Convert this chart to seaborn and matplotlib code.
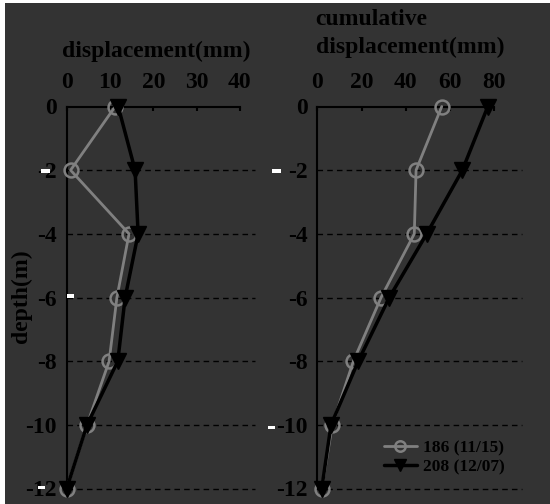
import matplotlib
matplotlib.use("Agg")
import matplotlib.pyplot as plt
from matplotlib.patches import Rectangle
import seaborn as sns

# Inclinometer readings: depth (m) against displacement (mm)
depth = [0, -2, -4, -6, -8, -10, -12]
disp_186 = [11.2, 0.9, 14.4, 11.6, 9.8, 4.7, 0.0]
disp_208 = [11.9, 15.8, 16.5, 13.5, 11.8, 4.7, 0.0]
cum_186 = [56.2, 44.6, 43.8, 28.8, 16.3, 6.8, 2.0]
cum_208 = [77.0, 65.5, 49.4, 32.5, 18.5, 6.2, 2.0]
series_labels = ["186 (11/15)", "208 (12/07)"]
left_ticks = [0, 10, 20, 30, 40]
right_ticks = [0, 20, 40, 60, 80]
depth_ticks = [0, -2, -4, -6, -8, -10, -12]

sns.set_style("ticks")
plt.rcParams["font.family"] = ["Liberation Serif", "DejaVu Serif"]
plt.rcParams["font.weight"] = "bold"
plt.rcParams["axes.unicode_minus"] = False

BG = "#333333"
GRAY = "#808080"
FS = 17
W, H = 550, 504

fig = plt.figure(figsize=(W / 100, H / 100), dpi=100, facecolor="white")
fig.add_artist(Rectangle((5 / W, 0), 1 - 5 / W, 1 - 3 / H, transform=fig.transFigure,
                         facecolor=BG, edgecolor="none", zorder=-10))


def px_axes(x0, x1, y0, y1):
    return fig.add_axes([x0 / W, 1 - y1 / H, (x1 - x0) / W, (y1 - y0) / H])


ax1 = px_axes(66.7, 255, 106.5, 488.5)
ax2 = px_axes(317.3, 521.7, 106.5, 488.5)


def style_axes(ax, xmax, top_max, ticks):
    ax.set_facecolor("none")
    ax.set_xlim(0, xmax)
    ax.set_ylim(-12, 0)
    for side in ("bottom", "right"):
        ax.spines[side].set_visible(False)
    for side in ("top", "left"):
        ax.spines[side].set_color("black")
        ax.spines[side].set_linewidth(1.5)
    ax.spines["top"].set_bounds(0, top_max)
    ax.spines["left"].set_bounds(-12, 0)
    ax.xaxis.set_ticks_position("top")
    ax.set_xticks(ticks)
    ax.set_xticklabels([str(t) for t in ticks])
    ax.set_yticks(depth_ticks)
    ax.set_yticklabels([str(t) for t in depth_ticks])
    ax.tick_params(axis="x", direction="in", length=3, width=1.5, color="black",
                   pad=10, labelsize=FS, labelcolor="black")
    ax.tick_params(axis="y", length=0, pad=7, labelsize=FS, labelcolor="black")
    for lab in ax.get_xticklabels() + ax.get_yticklabels():
        lab.set_fontweight("bold")
    ax.grid(False)
    # dashed depth guides below the top axis line
    for d in depth_ticks[1:]:
        ax.axhline(d, color="black", linewidth=1, linestyle=(0, (4, 3)),
                   zorder=0, clip_on=False)
    ax.set_xlabel("")
    ax.set_ylabel("")


def draw_pair(ax, a, b):
    sns.lineplot(x=a, y=depth, orient="y", sort=False, ax=ax, color=GRAY,
                 linewidth=2, marker="o", markersize=10, markerfacecolor="none",
                 markeredgecolor=GRAY, markeredgewidth=1.8, clip_on=False,
                 label=series_labels[0], legend=False, zorder=3)
    sns.lineplot(x=b, y=depth, orient="y", sort=False, ax=ax, color="black",
                 linewidth=2.5, marker="v", markersize=11, markerfacecolor="black",
                 markeredgecolor="black", markeredgewidth=1, clip_on=False,
                 label=series_labels[1], legend=False, zorder=4)


draw_pair(ax1, disp_186, disp_208)
draw_pair(ax2, cum_186, cum_208)
style_axes(ax1, 43.5, 40, left_ticks)
style_axes(ax2, 92.3, 80, right_ticks)

handles = ax2.get_lines()[:2]
leg = fig.legend(handles, series_labels, loc="upper left",
                 bbox_to_anchor=(384 / W, 1 - 440 / H), bbox_transform=fig.transFigure,
                 frameon=False, borderpad=0, borderaxespad=0, handlelength=1.9,
                 handletextpad=0.35, labelspacing=0.15, markerscale=0.75,
                 prop={"size": 12.5, "weight": "bold"})
for t in leg.get_texts():
    t.set_color("black")

# Panel titles and the shared depth label
fig.text(156 / W, 1 - 57 / H, "displacement(mm)", ha="center", va="baseline",
         fontsize=FS, fontweight="bold", color="black")
fig.text(315.7 / W, 1 - 25 / H, "cumulative", ha="left", va="baseline",
         fontsize=FS, fontweight="bold", color="black")
fig.text(315.7 / W, 1 - 53 / H, "displacement(mm)", ha="left", va="baseline",
         fontsize=FS, fontweight="bold", color="black")
fig.text(21 / W, 1 - 296 / H, "depth(m)", rotation=90, ha="center", va="center",
         fontsize=FS, fontweight="bold", color="black")

# Small white marks next to some depth labels
for x0, y0, x1, y1 in [(41, 169, 50, 173), (67, 294, 74, 298), (272, 169, 281, 173),
                       (268, 426, 275, 429), (38, 486, 45, 489)]:
    fig.add_artist(Rectangle((x0 / W, 1 - y1 / H), (x1 - x0) / W, (y1 - y0) / H,
                             transform=fig.transFigure, facecolor="white",
                             edgecolor="none", zorder=20))

fig.savefig("out.png", dpi=100, facecolor=fig.get_facecolor())
